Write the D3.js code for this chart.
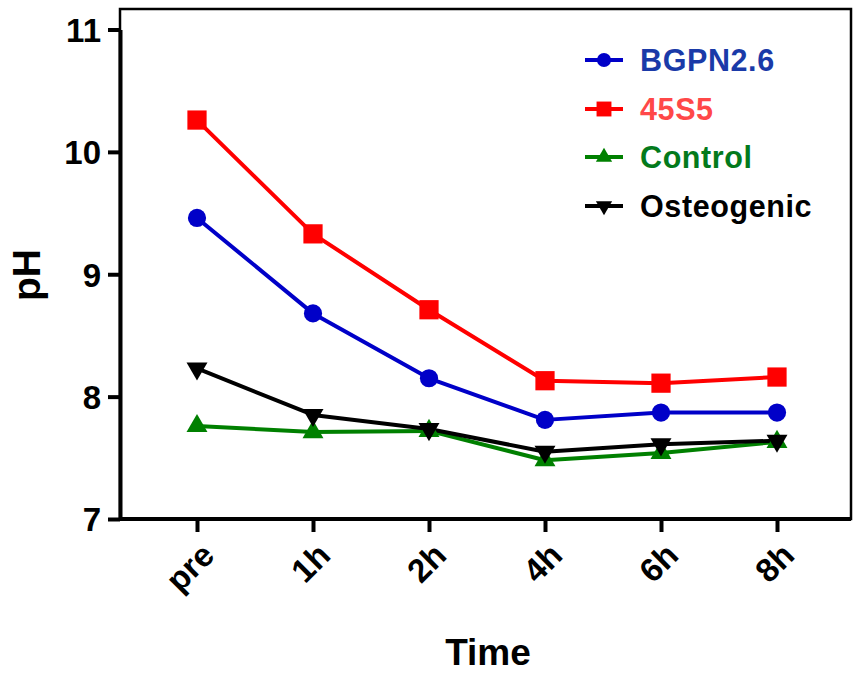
<!DOCTYPE html>
<html>
<head>
<meta charset="utf-8">
<script src="https://cdn.jsdelivr.net/npm/d3@7"></script>
<style>
  html, body { margin: 0; padding: 0; background: #fff; }
  svg { display: block; font-family: Arial, "Liberation Sans", Helvetica, sans-serif; }
</style>
</head>
<body>
<svg id="chart" width="855" height="673"></svg>
<script>
// Time points along the x axis
const timePoints = ["pre", "1h", "2h", "4h", "6h", "8h"];

// pH readings for each group
const bgpn = [9.46, 8.68, 8.15, 7.81, 7.87, 7.87];
const s45 = [10.26, 9.33, 8.71, 8.13, 8.11, 8.16];
const control = [7.76, 7.71, 7.72, 7.48, 7.54, 7.63];
const osteogenic = [8.23, 7.85, 7.735, 7.55, 7.61, 7.64];

const yTicks = [7, 8, 9, 10, 11];

const series = [
  { name: "BGPN2.6", values: bgpn, line: "#0000c8", text: "#1a3aa8", symbol: d3.symbolCircle, size: 260 },
  { name: "45S5", values: s45, line: "#ff0000", text: "#ff4848", symbol: d3.symbolSquare, size: 370 },
  { name: "Control", values: control, line: "#008000", text: "#037a1c", symbol: d3.symbolTriangle, size: 190 },
  { name: "Osteogenic", values: osteogenic, line: "#000000", text: "#000000", symbol: d3.symbolTriangle, size: 190, flip: true }
];

const svg = d3.select("#chart");

const plot = { left: 120, right: 851, top: 9, bottom: 519 };

const x = d3.scaleLinear().domain([0, timePoints.length - 1]).range([197, 777]);
const y = d3.scaleLinear().domain([7, 11]).range([519, 29.5]);

// Frame around the plotting area
svg.append("rect")
  .attr("x", plot.left).attr("y", plot.top)
  .attr("width", plot.right - plot.left).attr("height", plot.bottom - plot.top)
  .attr("fill", "none").attr("stroke", "#000").attr("stroke-width", 2.5);

// Y axis
const yAxis = svg.append("g")
  .attr("transform", `translate(${plot.left},0)`)
  .call(d3.axisLeft(y).tickValues(yTicks).tickFormat(d3.format("d")).tickSize(12).tickSizeOuter(0));
yAxis.attr("font-family", null).attr("font-size", null);
yAxis.select(".domain").attr("stroke-width", 4);
yAxis.selectAll(".tick line").attr("stroke-width", 4);
yAxis.selectAll(".tick text")
  .style("font-size", "33px").style("font-weight", "bold").attr("fill", "#000")
  .attr("x", -19).attr("dy", "0.36em");

// X axis: ticks from the axis generator, rotated labels placed at each tick
const xAxis = svg.append("g")
  .attr("transform", `translate(0,${plot.bottom})`)
  .call(d3.axisBottom(x).tickValues(d3.range(timePoints.length)).tickFormat("").tickSize(13).tickSizeOuter(0));
xAxis.select(".domain").attr("d", `M${plot.left},0H${plot.right}`).attr("stroke-width", 4);
xAxis.selectAll(".tick line").attr("stroke-width", 4);
xAxis.selectAll(".tick text").remove();

svg.append("g").selectAll("text")
  .data(timePoints)
  .join("text")
  .attr("transform", (d, i) => `translate(${x(i) + 11},${plot.bottom + 30}) rotate(-45)`)
  .attr("text-anchor", "end")
  .attr("dy", "0.35em")
  .style("font-size", "33px").style("font-weight", "bold")
  .attr("fill", "#000")
  .text(d => d);

// Axis titles
svg.append("text")
  .attr("x", 488).attr("y", 665)
  .attr("text-anchor", "middle")
  .style("font-size", "37px").style("font-weight", "bold")
  .text("Time");

svg.append("text")
  .attr("transform", "translate(40,275) rotate(-90)")
  .attr("text-anchor", "middle")
  .style("font-size", "39px").style("font-weight", "bold")
  .text("pH");

// Lines and markers for each group
const lineGen = d3.line().x((d, i) => x(i)).y(d => y(d));

series.forEach(s => {
  svg.append("path")
    .datum(s.values)
    .attr("d", lineGen)
    .attr("fill", "none")
    .attr("stroke", s.line)
    .attr("stroke-width", 4)
    .attr("stroke-linejoin", "round");
});

series.forEach(s => {
  const sym = d3.symbol().type(s.symbol).size(s.size);
  svg.append("g").selectAll("path")
    .data(s.values)
    .join("path")
    .attr("d", sym)
    .attr("transform", (d, i) => `translate(${x(i)},${y(d)})${s.flip ? " rotate(180)" : ""}`)
    .attr("fill", s.line);
});

// Legend
const legend = svg.append("g");
const legendY = [60, 109, 157, 206];
series.forEach((s, i) => {
  const g = legend.append("g").attr("transform", `translate(0,${legendY[i]})`);
  g.append("line")
    .attr("x1", 585).attr("x2", 623).attr("y1", 0).attr("y2", 0)
    .attr("stroke", s.line).attr("stroke-width", 4);
  g.append("path")
    .attr("d", d3.symbol().type(s.symbol).size(s.size * 0.6)())
    .attr("transform", `translate(604,0)${s.flip ? " rotate(180)" : ""}`)
    .attr("fill", s.line);
  g.append("text")
    .attr("x", 640).attr("y", 0).attr("dy", "0.36em")
    .style("font-size", "30.5px").style("font-weight", "bold")
    .attr("letter-spacing", 0.6)
    .attr("fill", s.text)
    .text(s.name);
});
</script>
</body>
</html>
